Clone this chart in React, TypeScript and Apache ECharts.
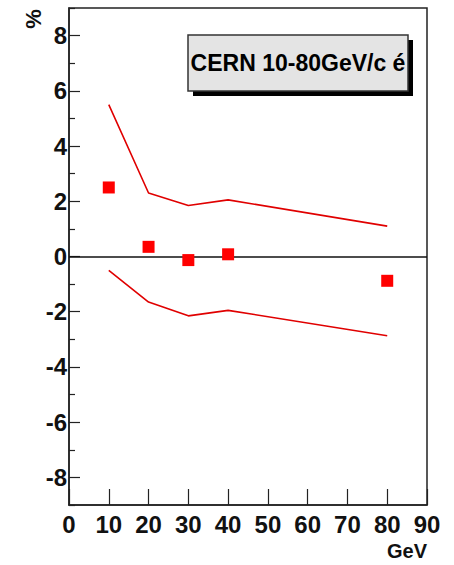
import React, { useEffect, useRef } from "react";
import * as echarts from "echarts";

const energies = [10, 20, 30, 40, 80];
const points = [2.5, 0.35, -0.13, 0.08, -0.88];
const upperBand = [5.5, 2.3, 1.85, 2.05, 1.1];
const lowerBand = [-0.5, -1.65, -2.15, -1.95, -2.87];
const yMajorTicks = [-8, -6, -4, -2, 0, 2, 4, 6, 8];
const yMinorTicks = [-9, -7, -5, -3, -1, 1, 3, 5, 7, 9];
const boxLabel = "CERN 10-80GeV/c é";
const xTitle = "GeV";
const yTitle = "%";

const FONT = "'Liberation Sans', Arial, Helvetica, sans-serif";

export default function App() {
  const ref = useRef<HTMLDivElement>(null);
  useEffect(() => {
    const chart = echarts.init(ref.current!, null, { renderer: "svg" });
    const pair = (ys: number[]) => energies.map((x, i) => [x, ys[i]]);
    chart.setOption({
      animation: false,
      backgroundColor: "#ffffff",
      grid: {
        left: 69,
        right: 27,
        top: 8,
        bottom: 60,
        show: true,
        borderColor: "#222",
        borderWidth: 1.5,
        backgroundColor: "transparent",
      },
      xAxis: {
        type: "value",
        min: 0,
        max: 90,
        interval: 10,
        splitLine: { show: false },
        axisLine: { show: true, onZero: false, lineStyle: { color: "#222", width: 1.5 } },
        axisTick: { show: true, inside: true, length: 16, lineStyle: { color: "#222", width: 1.2 } },
        axisLabel: {
          color: "#111",
          fontFamily: FONT,
          fontWeight: "bold",
          fontSize: 24,
          margin: 7,
        },
      },
      yAxis: [
        {
          type: "value",
          min: -9,
          max: 9,
          splitLine: { show: false },
          axisLine: { show: true, onZero: false, lineStyle: { color: "#222", width: 1.5 } },
          axisTick: {
            show: true,
            inside: true,
            length: 11,
            customValues: yMajorTicks,
            lineStyle: { color: "#222", width: 1.2 },
          },
          axisLabel: {
            customValues: yMajorTicks,
            color: "#111",
            fontFamily: FONT,
            fontWeight: "bold",
            fontSize: 24,
            margin: 2,
          },
        },
        {
          type: "value",
          min: -9,
          max: 9,
          position: "left",
          offset: 0,
          splitLine: { show: false },
          axisLine: { show: false },
          axisTick: {
            show: true,
            inside: true,
            length: 6,
            customValues: yMinorTicks,
            lineStyle: { color: "#222", width: 1.2 },
          },
          axisLabel: { show: false },
        },
      ],
      series: [
        {
          type: "line",
          data: pair(upperBand),
          symbol: "none",
          lineStyle: { color: "#e00000", width: 1.6 },
          markLine: {
            silent: true,
            symbol: "none",
            label: { show: false },
            lineStyle: { color: "#111", width: 1.5, type: "solid" },
            data: [{ yAxis: 0 }],
          },
        },
        {
          type: "line",
          data: pair(lowerBand),
          symbol: "none",
          lineStyle: { color: "#e00000", width: 1.6 },
        },
        {
          type: "scatter",
          data: pair(points),
          symbol: "rect",
          symbolSize: 12,
          itemStyle: { color: "#ff0000", opacity: 1 },
          z: 5,
        },
      ],
      graphic: [
        {
          type: "rect",
          shape: { x: 193, y: 40, width: 220, height: 56 },
          style: { fill: "#000" },
        },
        {
          type: "rect",
          shape: { x: 188, y: 35, width: 220, height: 56 },
          style: { fill: "#e4e4e4", stroke: "#333", lineWidth: 1.5 },
        },
        {
          type: "text",
          x: 298,
          y: 63,
          style: {
            text: boxLabel,
            fill: "#000",
            font: `bold 23px ${FONT}`,
            align: "center",
            verticalAlign: "middle",
          },
        },
        {
          type: "text",
          x: 427,
          y: 551,
          style: {
            text: xTitle,
            fill: "#111",
            font: `bold 20px ${FONT}`,
            align: "right",
            verticalAlign: "middle",
          },
        },
        {
          type: "text",
          x: 33,
          y: 19,
          rotation: Math.PI / 2,
          style: {
            text: yTitle,
            fill: "#111",
            font: `bold 22px ${FONT}`,
            align: "center",
            verticalAlign: "middle",
          },
        },
      ],
    });
    return () => chart.dispose();
  }, []);
  return (
    <div
      ref={ref}
      style={{ position: "absolute", left: 0, top: 0, width: 454, height: 565 }}
    />
  );
}
